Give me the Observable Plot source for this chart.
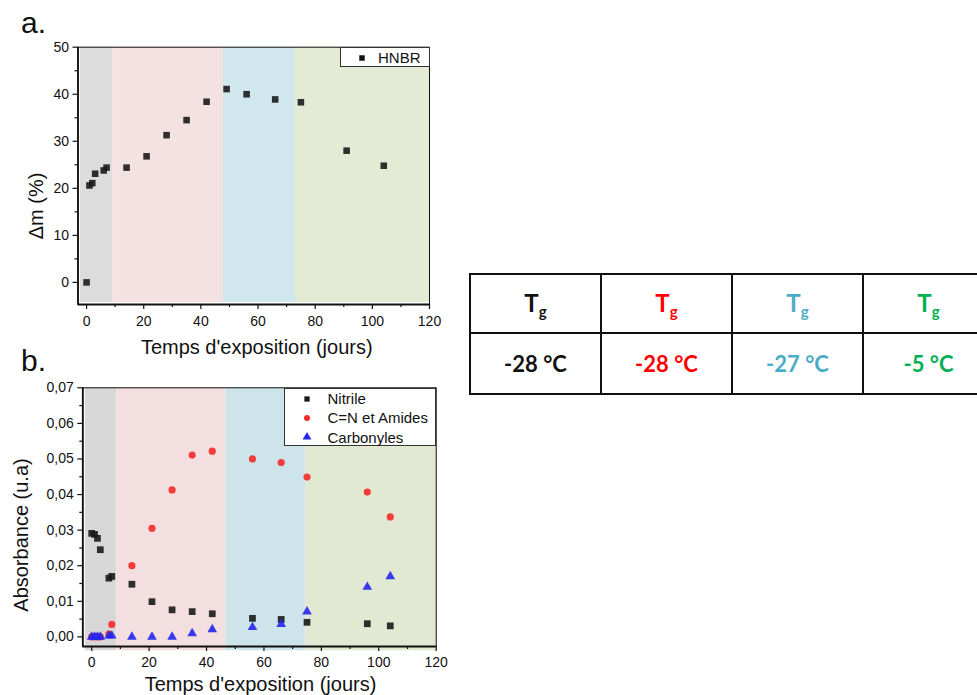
<!DOCTYPE html>
<html><head><meta charset="utf-8">
<script src="https://cdn.jsdelivr.net/npm/d3@7"></script>
<script src="https://cdn.jsdelivr.net/npm/@observablehq/plot@0.6"></script>
<style>
body{margin:0;background:#fff;font-family:"Liberation Sans",Arial,sans-serif;}
#root{position:relative;width:977px;height:695px;overflow:hidden;background:#fff;}
.panel{position:absolute;font-size:30px;line-height:30px;color:#111;}
.ylab{position:absolute;font-size:20px;line-height:20px;color:#111;white-space:nowrap;transform:translate(-50%,-50%) rotate(-90deg);}
.legend{position:absolute;background:#fff;border:1px solid #333;box-sizing:border-box;font-size:15px;color:#111;}
.legend .row{display:flex;align-items:center;height:19.3px;}
.legend svg{display:block;}
table.tg{position:absolute;left:469px;top:273px;width:524px;border-collapse:collapse;font-family:Lato,"Open Sans",sans-serif;font-weight:bold;table-layout:fixed;}
table.tg td{border:2px solid #111;width:129px;text-align:center;vertical-align:middle;padding:0;}
</style></head><body><div id="root"></div>
<script>
// ---------- data ----------
const xTicks = [0, 20, 40, 60, 80, 100, 120];
const xMinor = [10, 30, 50, 70, 90, 110];

// panel a: mass uptake of HNBR
const daysA = [0, 1, 2, 3, 6, 7, 14, 21, 28, 35, 42, 49, 56, 66, 75, 91, 104];
const massA = [0, 20.6, 21.1, 23.1, 23.8, 24.4, 24.4, 26.8, 31.3, 34.5, 38.4, 41.1, 40.0, 38.9, 38.3, 28.0, 24.8];
const yTicksA = [0, 10, 20, 30, 40, 50];
const yMinorA = [5, 15, 25, 35, 45];
const xDomA = [-3, 120];
const yDomA = [-4.7, 50];
const phaseStartA = [-2.2, 9.1, 47.9, 73.1];
const phaseEndA = [9.1, 47.9, 73.1, 120];

// panel b: absorbances
const daysB = [0, 1, 2, 3, 6, 7, 14, 21, 28, 35, 42, 56, 66, 75, 96, 104];
const nitrile = [0.0291, 0.0288, 0.0277, 0.0245, 0.0165, 0.0170, 0.0148, 0.0099, 0.0076, 0.0071, 0.0065, 0.0052, 0.0049, 0.0041, 0.0037, 0.0031];
const cnAmides = [0, 0, 0, 0, 0.0008, 0.0035, 0.0200, 0.0305, 0.0413, 0.0511, 0.0522, 0.0500, 0.0490, 0.0449, 0.0407, 0.0337];
const carbonyles = [0, 0, 0, 0, 0.0003, 0.0003, 0, 0, 0, 0.0010, 0.0021, 0.0027, 0.0036, 0.0071, 0.0140, 0.0170];
const yTicksB = [0, 0.01, 0.02, 0.03, 0.04, 0.05, 0.06, 0.07];
const yMinorB = [0.005, 0.015, 0.025, 0.035, 0.045, 0.055, 0.065];
const xDomB = [-3.1, 120];
const yDomB = [-0.0027, 0.07];
const phaseStartB = [-2.2, 8.7, 46.8, 74.6];
const phaseEndB = [8.7, 46.8, 74.6, 120.3];
const phaseBottomB = -0.0039;

const phaseColorsA = ["#dcdcdc", "#f4e1e1", "#d0e7ed", "#e4ebd5"];
const phaseColorsB = ["#d8d8d8", "#f3dfdf", "#cde5ea", "#e2e9d2"];

const seriesNames = ["Nitrile", "C=N et Amides", "Carbonyles"];
const seriesColors = ["#1a1a1a", "#f52a2a", "#2626ee"];
const seriesSymbols = ["square", "circle", "triangle"];

// table
const tgColors = ["#111111", "#ff0000", "#4bacc6", "#00b050"];
const tgValues = ["-28 °C", "-28 °C", "-27 °C", "-5 °C"];

// ---------- helpers ----------
const ink = "#111";
function axes(xDom, yDom, yTicks, yMinor, yFmt, xPad) {
  return [
    Plot.axisX(xTicks, {tickSize: 5, tickPadding: xPad, fontSize: 14, fill: ink, stroke: ink, strokeWidth: 1.2, tickFormat: d => String(d), label: null}),
    Plot.axisX(xMinor, {tickSize: 3, stroke: ink, strokeWidth: 1.2, tickFormat: () => "", label: null}),
    Plot.axisY(yTicks, {tickSize: 5, tickPadding: 4, fontSize: 14, fill: ink, stroke: ink, strokeWidth: 1.2, tickFormat: yFmt, label: null}),
    Plot.axisY(yMinor, {tickSize: 3, stroke: ink, strokeWidth: 1.2, tickFormat: () => "", label: null}),
    Plot.frame({stroke: ink, strokeWidth: 1}),
    Plot.ruleX([xDom[0]], {stroke: ink, strokeWidth: 1.8}),
    Plot.ruleY([yDom[0]], {stroke: ink, strokeWidth: 1.8})
  ];
}
const plotStyle = {fontFamily: "'Liberation Sans', Arial, sans-serif", fontSize: "14px", color: ink, background: "transparent", overflow: "visible"};

const root = document.getElementById("root");

// ---------- panel a ----------
const idxA = d3.range(daysA.length);
const phIdx = d3.range(4);
const plotA = Plot.plot({
  width: 460, height: 360,
  marginLeft: 77.5, marginTop: 46.7, marginRight: 31, marginBottom: 56,
  style: plotStyle,
  x: {domain: xDomA, axis: null, label: null},
  y: {domain: yDomA, axis: null, label: null},
  marks: [
    Plot.rect(phIdx, {x1: i => phaseStartA[i], x2: i => phaseEndA[i], y1: () => yDomA[0], y2: () => yDomA[1], fill: i => phaseColorsA[i], insetBottom: 2}),
    Plot.dot(idxA, {x: i => daysA[i], y: i => massA[i], symbol: "square", r: 3.7, fill: "#1a1a1a", fillOpacity: 0.9, stroke: "none"}),
    ...axes(xDomA, yDomA, yTicksA, yMinorA, d => String(d), 7),
    Plot.text(["Temps d'exposition (jours)"], {frameAnchor: "bottom", lineAnchor: "bottom", dy: 49.5, dx: 3, fontSize: 20, fill: ink})
  ]
});
plotA.style.position = "absolute"; plotA.style.left = "0px"; plotA.style.top = "0px";
root.appendChild(plotA);

// ---------- panel b ----------
const idxB = d3.range(daysB.length);
const fmtB = d => d3.format(".2f")(d).replace(".", ",");
const seriesB = [nitrile, cnAmides, carbonyles];
const plotB = Plot.plot({
  width: 460, height: 335,
  marginLeft: 82.3, marginTop: 27.3, marginRight: 24.3, marginBottom: 49,
  style: plotStyle,
  x: {domain: xDomB, axis: null, label: null},
  y: {domain: yDomB, axis: null, label: null},
  marks: [
    Plot.rect(phIdx, {x1: i => phaseStartB[i], x2: i => phaseEndB[i], y1: () => phaseBottomB, y2: () => yDomB[1], fill: i => phaseColorsB[i]}),
    ...seriesB.map((vals, s) => Plot.dot(idxB, {
      x: i => daysB[i], y: i => vals[i], symbol: seriesSymbols[s],
      r: s === 0 ? 3.8 : 3.6, fill: seriesColors[s], fillOpacity: 0.9, stroke: "none"
    })),
    ...axes(xDomB, yDomB, yTicksB, yMinorB, fmtB, 6),
    Plot.text(["Temps d'exposition (jours)"], {frameAnchor: "bottom", lineAnchor: "bottom", dy: 44, dx: 1, fontSize: 20, fill: ink})
  ]
});
plotB.style.position = "absolute"; plotB.style.left = "0px"; plotB.style.top = "360px";
root.appendChild(plotB);

// ---------- text overlays ----------
function addDiv(cls, html, css) {
  const d = document.createElement("div");
  d.className = cls; d.innerHTML = html;
  Object.assign(d.style, css);
  root.appendChild(d);
  return d;
}
addDiv("panel", "a.", {left: "21px", top: "8px"});
addDiv("panel", "b.", {left: "21px", top: "346px"});
addDiv("ylab", "\u0394m (%)", {left: "35.5px", top: "206px"});
addDiv("ylab", "Absorbance (u.a)", {left: "20.5px", top: "535px"});

// ---------- legends ----------
function symbolSvg(sym, color, size) {
  const s = d3.symbol(sym === "square" ? d3.symbolSquare : sym === "circle" ? d3.symbolCircle : d3.symbolTriangle, size)();
  return `<svg width="12" height="12" viewBox="-6 -6 12 12"><path d="${s}" fill="${color}"/></svg>`;
}
const legA = addDiv("legend", "", {left: "340px", top: "47px", width: "89.5px", height: "20px"});
legA.innerHTML = `<div class="row" style="height:19px"><span style="margin-left:15px">${symbolSvg("square", "#111", 30)}</span><span style="margin-left:10px">HNBR</span></div>`;

const legB = addDiv("legend", "", {left: "284px", top: "387.5px", width: "152px", height: "58.5px", paddingTop: "0.5px"});
legB.innerHTML = seriesNames.map((n, s) =>
  `<div class="row"><span style="margin-left:16px;width:12px">${symbolSvg(seriesSymbols[s], seriesColors[s], s === 2 ? 34 : 28)}</span><span style="margin-left:14.5px">${n}</span></div>`
).join("");

// ---------- table ----------
const table = document.createElement("table");
table.className = "tg";
const r1 = table.insertRow();
r1.style.height = "59px";
tgColors.forEach(c => {
  const td = r1.insertCell();
  td.style.color = c;
  td.innerHTML = `<span style="font-size:24px">T</span><sub style="font-size:15px;vertical-align:-5px">g</sub>`;
});
const r2 = table.insertRow();
r2.style.height = "61px";
tgValues.forEach((v, i) => {
  const td = r2.insertCell();
  td.style.color = tgColors[i];
  td.style.fontSize = "22px";
  td.textContent = v;
});
root.appendChild(table);
</script>
</body></html>
